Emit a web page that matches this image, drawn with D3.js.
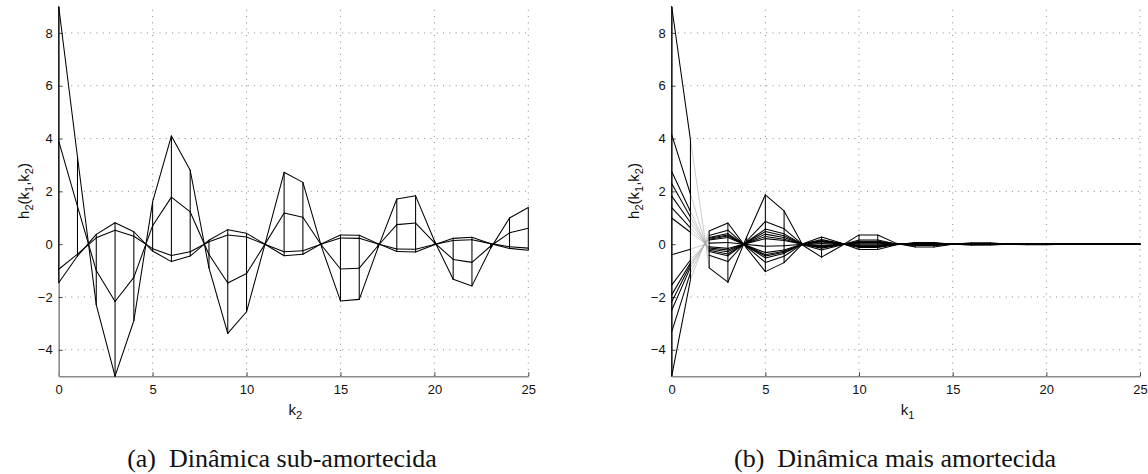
<!DOCTYPE html>
<html>
<head>
<meta charset="utf-8">
<script src="https://cdn.jsdelivr.net/npm/d3@7"></script>
<style>
  html, body { margin: 0; padding: 0; background: #fff; }
  svg { display: block; }
</style>
</head>
<body>
<svg id="chart" width="1148" height="474"></svg>
<script>
// ── Volterra kernel h2(k1,k2), mesh seen from the side ──

const kGrid = d3.range(0, 26)
const xTicks = [0, 5, 10, 15, 20, 25]
const yTicks = [-4, -2, 0, 2, 4, 6, 8]

// (a) seen along k1: visible rows k1 = 0, 1, 2, 3 plotted against k2
const rowK1_0 = [9, 3.3, -2.3, -5, -2.9, 1.6, 4.1, 2.8, -0.9, -3.38, -2.56, 0.05, 2.72, 2.34, -0.12, -2.15, -2.09, -0.13, 1.71, 1.83, 0.13, -1.33, -1.58, -0.15, 0.99, 1.39]
const rowK1_1 = [3.9, 1.43, -1.0, -2.17, -1.26, 0.7, 1.78, 1.22, -0.39, -1.47, -1.11, 0.02, 1.18, 1.02, -0.05, -0.94, -0.91, -0.06, 0.74, 0.8, 0.06, -0.58, -0.69, -0.07, 0.43, 0.6]
const rowK1_2 = [-0.95, -0.38, 0.24, 0.53, 0.3, -0.17, -0.43, -0.29, 0.09, 0.35, 0.27, -0.01, -0.29, -0.25, 0.01, 0.23, 0.22, 0.01, -0.18, -0.19, -0.01, 0.14, 0.17, 0.02, -0.1, -0.15]
const rowK1_3 = [-1.46, -0.45, 0.37, 0.81, 0.47, -0.26, -0.66, -0.45, 0.15, 0.55, 0.41, -0.01, -0.44, -0.38, 0.02, 0.35, 0.34, 0.02, -0.28, -0.3, -0.02, 0.22, 0.26, 0.02, -0.16, -0.23]

// (b) seen along k2: visible columns plotted against k1 (named by value at k1 = 0)
const colP900 = [9, 3.96, -0.9, -1.44, 0.27, 1.87, 1.26, -0.04, -0.49, -0.09, 0.35, 0.35, 0.03, -0.11, -0.11, 0, 0.05, 0.05, 0, -0.02, -0.02, 0, 0.01, 0.01, 0, 0]
const colP415 = [4.15, 1.9, -0.42, -0.66, 0.12, 0.86, 0.58, -0.02, -0.22, -0.04, 0.16, 0.16, 0.01, -0.05, -0.05, 0, 0.02, 0.02, 0, -0.01, -0.01, 0, 0, 0, 0, 0]
const colP275 = [2.75, 1.24, -0.28, -0.44, 0.08, 0.57, 0.39, -0.01, -0.15, -0.03, 0.11, 0.11, 0.01, -0.03, -0.03, 0, 0.02, 0.01, 0, 0, 0, 0, 0, 0, 0, 0]
const colP230 = [2.3, 1.03, -0.23, -0.37, 0.07, 0.48, 0.32, -0.01, -0.12, -0.02, 0.09, 0.09, 0.01, -0.03, -0.03, 0, 0.01, 0.01, 0, 0, 0, 0, 0, 0, 0, 0]
const colP182 = [1.82, 0.82, -0.18, -0.29, 0.05, 0.38, 0.25, -0.01, -0.1, -0.02, 0.07, 0.07, 0.01, -0.02, -0.02, 0, 0.01, 0.01, 0, 0, 0, 0, 0, 0, 0, 0]
const colP138 = [1.38, 0.62, -0.14, -0.22, 0.04, 0.29, 0.19, -0.01, -0.07, -0.01, 0.05, 0.05, 0, -0.02, -0.02, 0, 0.01, 0.01, 0, 0, 0, 0, 0, 0, 0, 0]
const colP099 = [0.99, 0.45, -0.1, -0.16, 0.03, 0.21, 0.14, 0, -0.05, -0.01, 0.04, 0.04, 0, -0.01, -0.01, 0, 0.01, 0, 0, 0, 0, 0, 0, 0, 0, 0]
const colN040 = [-0.4, -0.19, 0.04, 0.06, -0.01, -0.08, -0.06, 0, 0.02, 0, -0.02, -0.02, 0, 0, 0, 0, 0, 0, 0, 0, 0, 0, 0, 0, 0, 0]
const colN155 = [-1.55, -0.6, 0.16, 0.25, -0.05, -0.32, -0.22, 0.01, 0.08, 0.02, -0.06, -0.06, 0, 0.02, 0.02, 0, -0.01, -0.01, 0, 0, 0, 0, 0, 0, 0, 0]
const colN192 = [-1.92, -0.7, 0.19, 0.31, -0.06, -0.4, -0.27, 0.01, 0.1, 0.02, -0.07, -0.07, -0.01, 0.02, 0.02, 0, -0.01, -0.01, 0, 0, 0, 0, 0, 0, 0, 0]
const colN218 = [-2.18, -0.78, 0.22, 0.35, -0.07, -0.45, -0.31, 0.01, 0.12, 0.02, -0.09, -0.09, -0.01, 0.03, 0.03, 0, -0.01, -0.01, 0, 0, 0, 0, 0, 0, 0, 0]
const colN250 = [-2.5, -0.88, 0.25, 0.4, -0.08, -0.52, -0.35, 0.01, 0.14, 0.03, -0.1, -0.1, -0.01, 0.03, 0.03, 0, -0.02, -0.01, 0, 0, 0, 0, 0, 0, 0, 0]
const colN332 = [-3.32, -1.08, 0.33, 0.53, -0.1, -0.69, -0.46, 0.01, 0.18, 0.03, -0.13, -0.13, -0.01, 0.04, 0.04, 0, -0.02, -0.02, 0, 0.01, 0.01, 0, 0, 0, 0, 0]
const colN500 = [-5, -1.35, 0.5, 0.8, -0.15, -1.04, -0.7, 0.02, 0.27, 0.05, -0.2, -0.2, -0.02, 0.06, 0.06, 0, -0.03, -0.03, 0, 0.01, 0.01, 0, 0, 0, 0, 0]

const svg = d3.select('#chart')
const yScale = d3.scaleLinear().domain([-5, 9]).range([376.2, 6.5])

function drawPanel(cfg) {
  const x = d3.scaleLinear().domain([0, 25]).range([cfg.x0, cfg.x1])
  const y = yScale
  const g = svg.append('g')

  // dotted grid
  g.selectAll('line.vgrid')
    .data(xTicks.filter(t => t > 0))
    .join('line')
    .attr('x1', d => x(d)).attr('x2', d => x(d))
    .attr('y1', y(-5)).attr('y2', y(9))
    .attr('stroke', '#7a7a7a').attr('stroke-width', 0.9)
    .attr('stroke-dasharray', '1,5.3')
  g.selectAll('line.hgrid')
    .data(yTicks)
    .join('line')
    .attr('x1', x(0)).attr('x2', x(25))
    .attr('y1', d => y(d)).attr('y2', d => y(d))
    .attr('stroke', '#7a7a7a').attr('stroke-width', 0.9)
    .attr('stroke-dasharray', '1,5.3')

  // white mesh faces hide the grid behind them
  const sorted = cfg.lines.slice().sort((a, b) => b[0] - a[0])
  const faces = []
  for (let i = 0; i < sorted.length - 1; i++) {
    for (let k = 0; k < 25; k++) {
      faces.push([[k, sorted[i][k]], [k + 1, sorted[i][k + 1]], [k + 1, sorted[i + 1][k + 1]], [k, sorted[i + 1][k]]])
    }
  }
  g.selectAll('polygon.face')
    .data(faces)
    .join('polygon')
    .attr('points', d => d.map(p => `${x(p[0])},${y(p[1])}`).join(' '))
    .attr('fill', '#fff')
    .attr('stroke', '#fff')
    .attr('stroke-width', 0.5)

  // axes
  const xAxis = d3.axisBottom(x).tickValues(xTicks).tickSize(-4).tickSizeOuter(0).tickPadding(9)
  const yAxis = d3.axisLeft(y).tickValues(yTicks).tickSize(-4).tickSizeOuter(0).tickPadding(6)
  const gx = g.append('g').attr('transform', `translate(0,${y(-5)})`).call(xAxis)
  const gy = g.append('g').attr('transform', `translate(${x(0)},0)`).call(yAxis)
  ;[gx, gy].forEach(a => {
    a.select('.domain').attr('stroke', '#8c8c8c').attr('stroke-width', 1.6)
    a.selectAll('.tick line').attr('stroke', '#333').attr('stroke-width', 0.9)
    a.selectAll('.tick text')
      .attr('fill', '#111')
      .attr('font-family', '"Liberation Sans", Arial, sans-serif')
      .attr('font-size', 13)
  })

  // mesh lines along the plotted axis
  const segs = []
  cfg.lines.forEach(line => {
    for (let k = 0; k < 25; k++) {
      segs.push({ k, a: line[k], b: line[k + 1], faint: cfg.faintSegs.includes(k) })
    }
  })
  g.selectAll('line.seg')
    .data(segs)
    .join('line')
    .attr('x1', d => x(d.k)).attr('x2', d => x(d.k + 1))
    .attr('y1', d => y(d.a)).attr('y2', d => y(d.b))
    .attr('stroke', d => d.faint ? '#a8a8a8' : '#000')
    .attr('stroke-width', d => d.faint ? 0.6 : 1.05)
    .attr('stroke-linecap', 'round')

  // mesh lines along the viewing axis project to vertical segments
  const verts = kGrid.map(k => ({ k, lo: d3.min(cfg.lines, l => l[k]), hi: d3.max(cfg.lines, l => l[k]) }))
  g.selectAll('line.vert')
    .data(verts)
    .join('line')
    .attr('x1', d => x(d.k)).attr('x2', d => x(d.k))
    .attr('y1', d => y(d.lo)).attr('y2', d => y(d.hi))
    .attr('stroke', '#000').attr('stroke-width', 1.05)

  // axis labels
  const sans = '"Liberation Sans", Arial, sans-serif'
  const xl = g.append('text')
    .attr('x', (cfg.x0 + cfg.x1) / 2 - 5).attr('y', 415)
    .attr('font-family', sans).attr('font-size', 15).attr('fill', '#111')
  xl.append('tspan').text('k')
  xl.append('tspan').attr('font-size', 11).attr('dy', 4).text(cfg.xSub)

  const yl = g.append('text')
    .attr('transform', `translate(${cfg.yLabelX},191) rotate(-90)`)
    .attr('text-anchor', 'middle')
    .attr('font-family', sans).attr('font-size', 15).attr('fill', '#111')
  yl.append('tspan').text('h')
  yl.append('tspan').attr('font-size', 11).attr('dy', 4).text('2')
  yl.append('tspan').attr('dy', -4).text('(k')
  yl.append('tspan').attr('font-size', 11).attr('dy', 4).text('1')
  yl.append('tspan').attr('dy', -4).text(',k')
  yl.append('tspan').attr('font-size', 11).attr('dy', 4).text('2')
  yl.append('tspan').attr('dy', -4).text(')')

  // caption
  svg.append('text')
    .attr('x', cfg.capX).attr('y', 467)
    .attr('text-anchor', 'middle')
    .attr('font-family', '"Liberation Serif", "Times New Roman", serif')
    .attr('font-size', 26).attr('fill', '#111')
    .attr('xml:space', 'preserve')
    .style('white-space', 'pre')
    .text(cfg.caption)
}

drawPanel({
  x0: 58.7, x1: 528.3,
  lines: [rowK1_0, rowK1_1, rowK1_2, rowK1_3],
  faintSegs: [],
  xSub: '2', yLabelX: 29,
  capX: 282, caption: '(a)  Dinâmica sub-amortecida',
})

drawPanel({
  x0: 671.7, x1: 1140,
  lines: [colP900, colP415, colP275, colP230, colP182, colP138, colP099,
          colN040, colN155, colN192, colN218, colN250, colN332, colN500],
  faintSegs: [1],
  xSub: '1', yLabelX: 639,
  capX: 895, caption: '(b)  Dinâmica mais amortecida',
})
</script>
</body>
</html>
